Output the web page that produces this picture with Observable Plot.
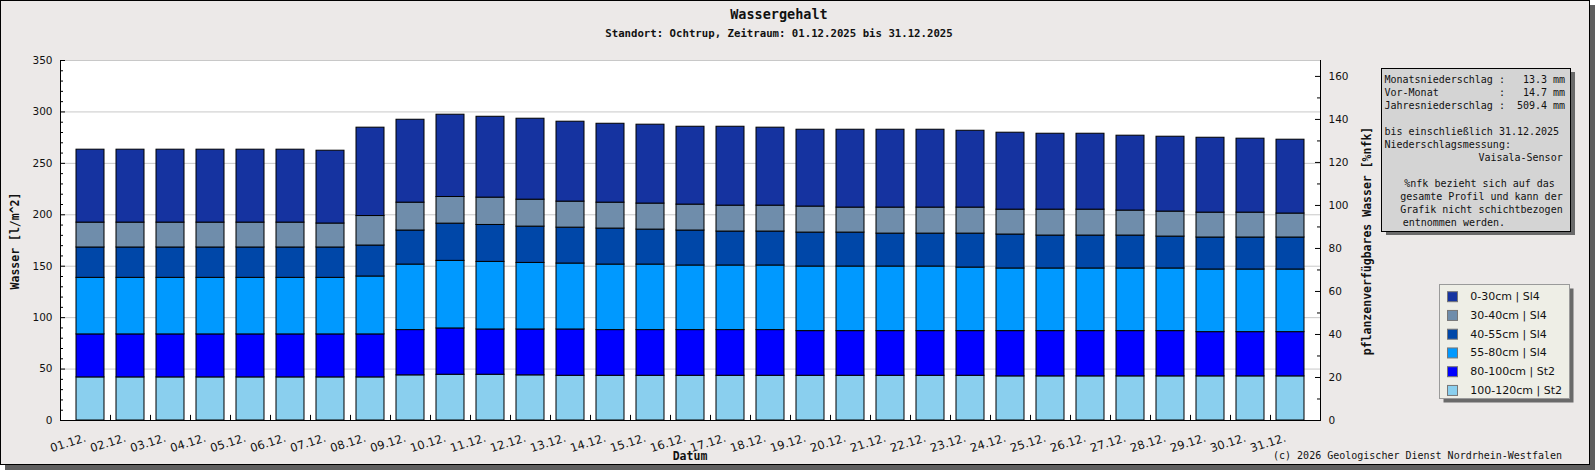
<!DOCTYPE html>
<html><head><meta charset="utf-8">
<script src="https://cdn.jsdelivr.net/npm/d3@7"></script>
<script src="https://cdn.jsdelivr.net/npm/@observablehq/plot@0.6"></script>
<style>html,body{margin:0;padding:0;background:#fff;overflow:hidden}</style>
</head><body><div id="chart"></div>
<script>
const days = ["01.12.","02.12.","03.12.","04.12.","05.12.","06.12.","07.12.","08.12.","09.12.","10.12.",
  "11.12.","12.12.","13.12.","14.12.","15.12.","16.12.","17.12.","18.12.","19.12.","20.12.",
  "21.12.","22.12.","23.12.","24.12.","25.12.","26.12.","27.12.","28.12.","29.12.","30.12.","31.12."];
// layers bottom -> top
const layers = ["100-120cm | St2","80-100cm | St2","55-80cm | Sl4","40-55cm | Sl4","30-40cm | Sl4","0-30cm | Sl4"];
const colors = ["#8ACFEE","#0000FF","#0099FF","#0047A8","#6F8DAB","#1533A0"];
const v100_120 = [41.9,41.9,41.9,41.9,41.9,41.9,41.9,41.9,43.9,44.5,44.5,43.9,43.5,43.5,43.5,43.5,43.5,43.5,43.5,43.5,43.5,43.5,43.5,42.9,42.9,42.9,42.9,42.9,42.9,42.9,42.9];
const v80_100 = [41.8,41.8,41.8,41.8,41.8,41.8,41.8,41.8,44.0,45.0,44.0,44.6,45.0,44.4,44.4,44.4,44.4,44.4,43.4,43.4,43.4,43.4,43.4,44.0,44.0,44.0,44.0,44.0,43.0,43.0,43.0];
const v55_80 = [55.0,55.0,55.0,55.0,55.0,55.0,55.0,56.3,63.7,65.7,65.7,64.7,64.1,63.7,63.7,62.8,62.8,62.8,62.8,62.8,62.8,62.8,61.8,60.9,60.9,60.9,60.9,60.9,60.9,60.9,60.9];
const v40_55 = [29.5,29.5,29.5,29.5,29.5,29.5,29.5,30.1,33.1,36.2,35.9,35.3,34.9,35.0,34.0,34.0,33.0,33.0,33.0,33.0,32.0,32.0,33.0,33.0,32.0,32.0,32.0,31.0,31.1,31.1,31.1];
const v30_40 = [24.2,24.2,24.2,24.2,24.2,24.2,23.3,28.7,27.1,25.9,26.6,26.2,25.3,25.2,25.3,25.2,25.2,25.2,25.3,24.3,25.3,25.3,25.3,24.2,25.2,25.2,24.3,24.3,24.2,24.2,23.3];
const v0_30 = [70.9,70.9,70.9,70.9,70.9,70.9,70.8,85.9,80.6,80.0,78.6,78.7,77.7,76.7,76.7,75.7,76.7,75.8,74.7,75.7,75.7,75.7,74.7,74.8,73.8,73.8,72.8,72.8,72.8,71.9,71.8];
const series = [v100_120, v80_100, v55_80, v40_55, v30_40, v0_30];
const leftTicks = [0,50,100,150,200,250,300,350];
const rightTicks = [0,20,40,60,80,100,120,140,160];
const rightMax = 167.4;   // %nfk at top of the frame
const leftMax = 350;

const table = [];
days.forEach((d, i) => layers.forEach((l, j) => table.push({day: d, layer: l, value: series[j][i]})));

const k = leftMax / rightMax;
const W = 1595, H = 470, mL = 60, mR = 275, mT = 60, mB = 50;
const innerW = W - mL - mR;

function build(step) {
  const marks = [
    Plot.frame({fill: "white"}),
    Plot.gridY(leftTicks, {stroke: "#c8c8c8", strokeOpacity: 1}),
    Plot.barY(table, {x: "day", y: "value", fill: "layer", stroke: "black", strokeWidth: 1}),
    Plot.frame({stroke: "black"}),
    Plot.ruleY([leftMax], {stroke: "#c8c8c8"}),
    Plot.tickY(d3.range(0, 351, 10).filter(v => v % 50), {y: d => d, stroke: "black", insetRight: innerW - 3}),
    Plot.tickY(leftTicks, {y: d => d, stroke: "black", insetRight: innerW - 5}),
    Plot.tickY(d3.range(0, 161, 10).filter(v => v % 20).map(v => v * k), {y: d => d, stroke: "black", insetLeft: innerW - 3}),
    Plot.tickY(rightTicks.map(v => v * k), {y: d => d, stroke: "black", insetLeft: innerW - 5}),
    Plot.axisY({ticks: leftTicks, tickSize: 0, tickPadding: 8, fontSize: 10.5, fill: "#111", label: null}),
    Plot.axisY({anchor: "right", ticks: rightTicks.map(v => v * k), tickFormat: d => String(Math.round(d / k)), tickSize: 0, tickPadding: 8, fontSize: 10.5, fill: "#111", label: null}),
    Plot.text(days, {x: d => d, frameAnchor: "bottom", dy: 17, dx: -5, rotate: -18, textAnchor: "end", lineAnchor: "middle", fontSize: 11.5, fill: "#111", fontFamily: "DejaVu Sans"})
  ];
  if (step) marks.push(Plot.ruleX(days.slice(1), {x: d => d, y1: 0, y2: 5, dx: -step / 2, stroke: "black"}));
  return Plot.plot({
    width: W, height: H,
    marginLeft: mL, marginRight: mR, marginTop: mT, marginBottom: mB,
    style: {background: "transparent", fontFamily: "DejaVu Sans", fontSize: "10.5px", overflow: "visible"},
    x: {type: "band", domain: days, paddingInner: 0.31, paddingOuter: 0.155, label: null, axis: null},
    y: {domain: [0, leftMax], label: null, axis: null},
    color: {domain: layers.slice().reverse(), range: colors.slice().reverse()},
    marks
  });
}
const first = build(0);
const step = first.scale("x").step;
const plot = build(step);
document.getElementById("chart").appendChild(plot);

const svg = d3.select(plot);
svg.insert("rect", ":first-child").attr("x", 0.5).attr("y", 0.5).attr("width", 1589).attr("height", 464)
  .attr("fill", "#ECE9E8").attr("stroke", "black");
svg.insert("rect", ":first-child").attr("x", 5).attr("y", 5).attr("width", 1590).attr("height", 465).attr("fill", "#5f5f5f");

const mono = "DejaVu Sans Mono";
function txt(x, y, s, opts = {}) {
  const t = svg.append("text").attr("x", x).attr("y", y).attr("dominant-baseline", "central")
    .attr("font-family", opts.family || mono).attr("font-size", opts.size || 10)
    .attr("font-weight", opts.weight || "normal").attr("text-anchor", opts.anchor || "start")
    .attr("fill", opts.fill || "#111").style("white-space", "pre").text(s);
  if (opts.rotate) t.attr("transform", `rotate(${opts.rotate},${x},${y})`);
  return t;
}
txt(779, 14, "Wassergehalt", {size: 13.5, weight: "bold", anchor: "middle"});
txt(779, 33, "Standort: Ochtrup, Zeitraum: 01.12.2025 bis 31.12.2025", {size: 10.7, weight: "bold", anchor: "middle"});
txt(15, 241, "Wasser [l/m^2]", {size: 11.5, weight: "bold", anchor: "middle", rotate: -90});
txt(1367, 241, "pflanzenverfügbares Wasser [%nfk]", {size: 11.5, weight: "bold", anchor: "middle", rotate: -90});
txt(690, 456, "Datum", {size: 11.5, weight: "bold", anchor: "middle"});
txt(1562, 455, "(c) 2026 Geologischer Dienst Nordrhein-Westfalen", {size: 10, anchor: "end"});

// info box
svg.append("rect").attr("x", 1386).attr("y", 72).attr("width", 189).attr("height", 163).attr("fill", "#6a6a6a");
svg.append("rect").attr("x", 1381.5).attr("y", 68.5).attr("width", 189).attr("height", 163).attr("fill", "#D4D4D4").attr("stroke", "black");
const infoLeft = [
  [79.3, "Monatsniederschlag :   13.3 mm"],
  [92.5, "Vor-Monat          :   14.7 mm"],
  [105.7, "Jahresniederschlag :  509.4 mm"],
  [131, "bis einschließlich 31.12.2025"],
  [144.3, "Niederschlagsmessung:"]
];
infoLeft.forEach(([y, s]) => txt(1384.5, y, s));
txt(1562.7, 157.3, "Vaisala-Sensor", {anchor: "end"});
txt(1404.3, 183.3, "%nfk bezieht sich auf das");
txt(1562.7, 196.5, "gesamte Profil und kann der", {anchor: "end"});
txt(1562.7, 209.5, "Grafik nicht schichtbezogen", {anchor: "end"});
txt(1402.7, 222.7, "entnommen werden.");

// legend
svg.append("rect").attr("x", 1443.5).attr("y", 288.5).attr("width", 130).attr("height", 114).attr("fill", "#6a6a6a");
svg.append("rect").attr("x", 1439.5).attr("y", 284.5).attr("width", 130).attr("height", 114).attr("fill", "#EEEEE6").attr("stroke", "#9a9a9a");
const legendOrder = layers.slice().reverse();
const legendColors = colors.slice().reverse();
legendOrder.forEach((l, i) => {
  const cy = 296.7 + i * 18.75;
  svg.append("rect").attr("x", 1447.5).attr("y", cy - 5).attr("width", 10).attr("height", 10)
    .attr("fill", legendColors[i]).attr("stroke", "#777");
  txt(1470.3, cy, l, {family: "DejaVu Sans", size: 11});
});
</script></body></html>
